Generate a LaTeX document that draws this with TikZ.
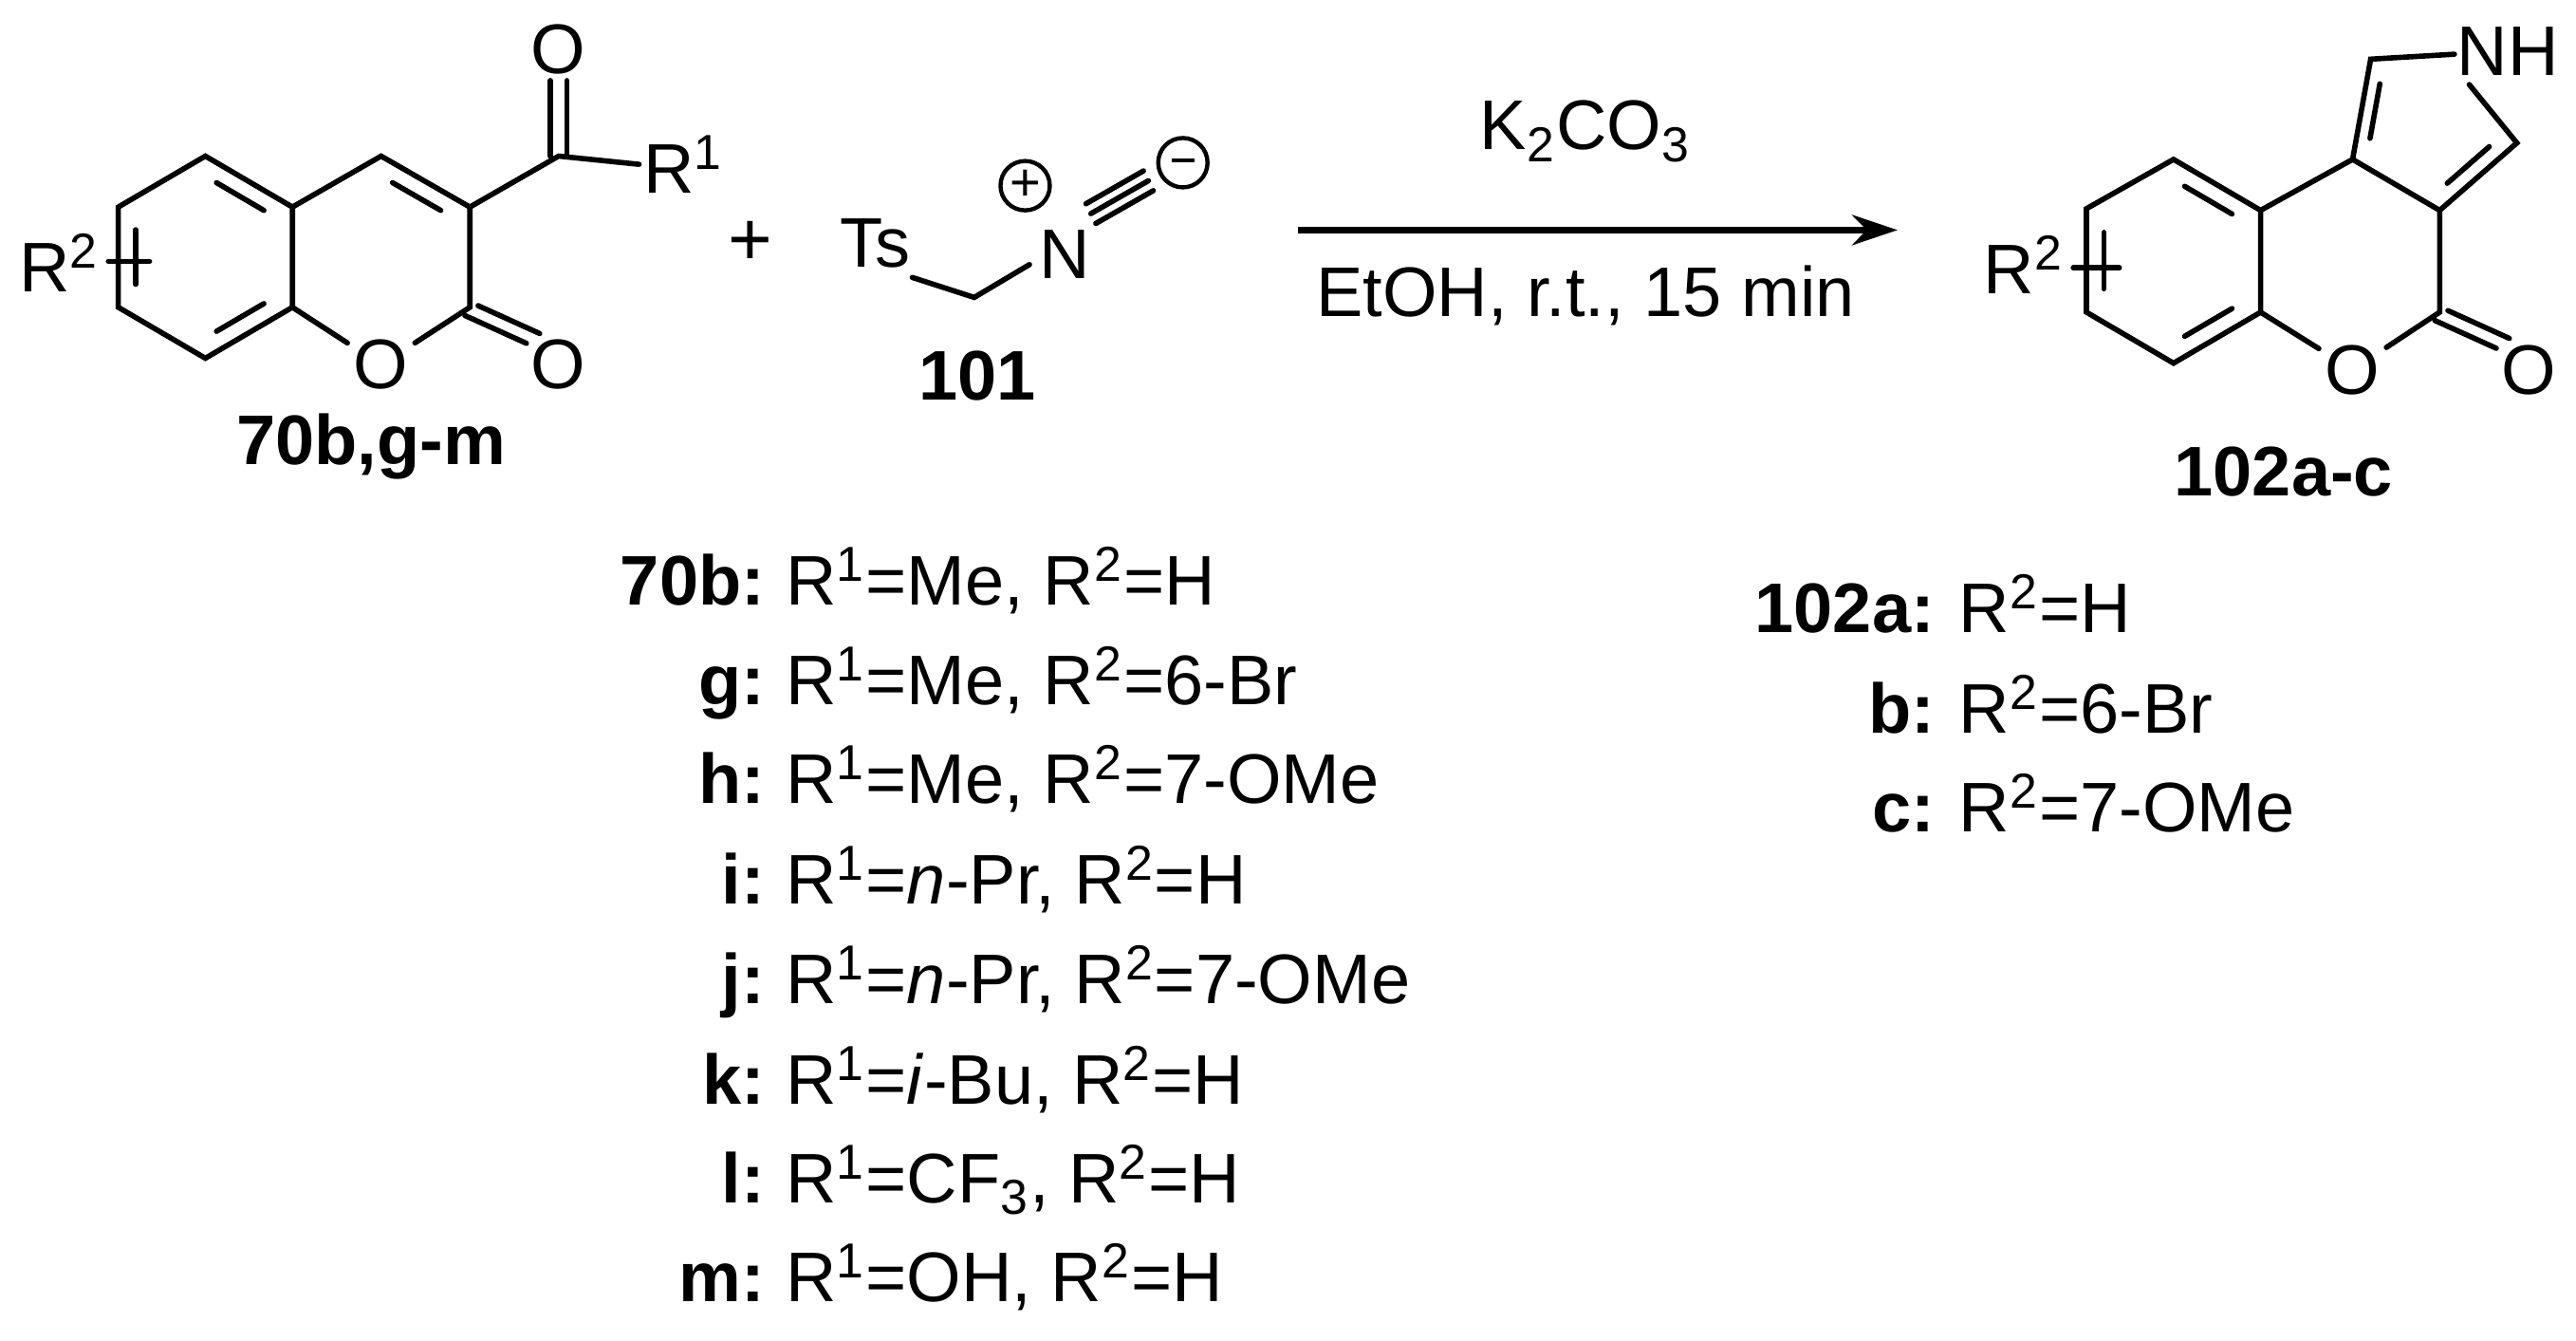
\documentclass[tikz,border=0pt]{standalone}
\usepackage{fontspec}
\setmainfont{Liberation Sans}
\usetikzlibrary{calc,arrows.meta}
\begin{document}
\begin{tikzpicture}[x=0.4329pt,y=-0.4329pt,
  bond/.style={line width=1.4pt,line cap=round},
  atom/.style={inner sep=1.5pt,font=\fontsize{18.5}{22}\selectfont},
  txt/.style={inner sep=0pt,font=\fontsize{18.5}{22}\selectfont},
  lbl/.style={inner sep=0pt,font=\fontsize{18.5}{22}\selectfont\bfseries},
  chg/.style={circle,draw,line width=1.1pt,minimum size=13pt,inner sep=0pt}]
\useasboundingbox (0,0) rectangle (1568,816);
\newcommand{\inbond}[3]{\draw[bond] ($($(#1)!0.16!(#2)$)!0.2!(#3)$) -- ($($(#1)!0.84!(#2)$)!0.2!(#3)$);}
% ---------- left molecule 70 ----------
\coordinate (a1) at (125,95); \coordinate (a2) at (72,126); \coordinate (a3) at (72,187);
\coordinate (a4) at (125,218); \coordinate (a8a) at (178,187); \coordinate (a4a) at (178,126);
\coordinate (ac4) at (232,95); \coordinate (ac3) at (286,126); \coordinate (ac2) at (286,187);
\coordinate (acyl) at (340,95);
\coordinate (bc) at (125,156); \coordinate (pc) at (232,156);
\node[atom] (ao1) at (232,222) {O};
\node[atom] (aox) at (340,222) {O};
\node[atom] (aot) at (340,30) {O};
\node[atom,anchor=west,inner sep=1pt] (ar1) at (389,100) {R\textsuperscript{1}};
\node[atom,anchor=east,inner sep=1pt] (ar2) at (63,160) {R\textsuperscript{2}};
\draw[bond] (a1)--(a2)--(a3)--(a4)--(a8a)--(a4a)--cycle;
\inbond{a1}{a4a}{bc}\inbond{a2}{a3}{bc}\inbond{a8a}{a4}{bc}
\draw[bond] (a4a)--(ac4)--(ac3)--(ac2)--(ao1)--(a8a);
\inbond{ac4}{ac3}{pc}
\draw[bond] (ac3)--(acyl)--(ar1.west);
\draw[bond] ($(acyl)+(-5,0)$)--($(aot.south)+(-5,0)$);
\draw[bond] ($(acyl)+(5,0)$)--($(aot.south)+(5,0)$);
\draw[bond] ($(ac2)+(-3,5)$)--($(aox.north west)+(1,6)$);
\draw[bond] ($(ac2)+(5,-1)$)--($(aox.north west)+(9,0)$);
\coordinate (ar2s) at (66,159); \coordinate (ar2e) at (91,159);
\draw[bond] (ar2s)--(ar2e);
\node[lbl] (l70) at (226,272) {70b,g-m};
% plus
\node[txt,font=\fontsize{20}{22}\selectfont] (plus) at (457,148) {+};
% ---------- 101 ----------
\node[atom] (ts) at (533,148) {Ts};
\coordinate (ch2) at (593,181);
\node[atom] (nn) at (648,155) {N};
\node[chg] (pch) at (624,113) {\fontsize{14}{14}\selectfont +};
\coordinate (tb1) at (664,130); \coordinate (tb2) at (699,110);
\draw[bond] ($(ts.south east)+(-3,2)$)--(ch2)--($(nn.west)+(-2,6)$);
\foreach \o in {-1,0,1}{\draw[bond] ($(tb1)+(\o*3,\o*6)$)--($(tb2)+(\o*3,\o*6)$);}
\node[chg] (mch) at (720,99) {\rule[0.25ex]{6pt}{1.1pt}};
\node[lbl] (l101) at (595,229) {101};
% ---------- arrow ----------
\coordinate (arS) at (790,140); \coordinate (arE) at (1155,140);
\draw[line width=1.6pt,-{Stealth[length=12pt,width=8pt]}] (arS)--(arE);
\node[txt] (k2) at (965,80) {K\textsubscript{2}CO\textsubscript{3}};
\node[txt] (cond) at (965,180) {EtOH, r.t., 15 min};
% ---------- right molecule 102 ----------
\coordinate (b1) at (1323,97); \coordinate (b2) at (1270,127); \coordinate (b3) at (1270,190);
\coordinate (b4) at (1323,221); \coordinate (b5) at (1376,190); \coordinate (b6) at (1376,128);
\coordinate (c9b) at (1432,97); \coordinate (c3a) at (1485,128); \coordinate (c4) at (1485,190);
\coordinate (c1) at (1443,36); \coordinate (c3) at (1532,87);
\coordinate (bbc) at (1323,159); \coordinate (rc) at (1478,72);
\node[atom] (bo5) at (1432,225) {O};
\node[atom] (box) at (1539,225) {O};
\node[atom,anchor=west,inner sep=1pt] (nh) at (1493,31) {NH};
\node[atom,anchor=east,inner sep=1pt] (br2) at (1259,161) {R\textsuperscript{2}};
\draw[bond] (b1)--(b2)--(b3)--(b4)--(b5)--(b6)--cycle;
\inbond{b1}{b6}{bbc}\inbond{b2}{b3}{bbc}\inbond{b5}{b4}{bbc}
\draw[bond] (b6)--(c9b)--(c3a)--(c4)--(bo5)--(b5);
\draw[bond] (c9b)--(c1)--($(nh.west)+(1,2)$);
\draw[bond] ($(nh.south west)+(10,3)$)--(c3)--(c3a);
\inbond{c9b}{c1}{rc}\inbond{c3}{c3a}{rc}
\draw[bond] ($(c4)+(-3,5)$)--($(box.north west)+(1,6)$);
\draw[bond] ($(c4)+(5,-1)$)--($(box.north west)+(9,0)$);
\coordinate (br2s) at (1262,163); \coordinate (br2e) at (1290,163);
\draw[bond] (br2s)--(br2e);
\node[lbl] (l102) at (1390,287) {102a-c};
% ---------- table ----------
\foreach \n/\l/\t/\y in {
 t1/70b:/{R\textsuperscript{1}=Me, R\textsuperscript{2}=H}/368,
 t2/g:/{R\textsuperscript{1}=Me, R\textsuperscript{2}=6-Br}/429,
 t3/h:/{R\textsuperscript{1}=Me, R\textsuperscript{2}=7-OMe}/489,
 t4/i:/{R\textsuperscript{1}=\textit{n}-Pr, R\textsuperscript{2}=H}/550,
 t5/j:/{R\textsuperscript{1}=\textit{n}-Pr, R\textsuperscript{2}=7-OMe}/611,
 t6/k:/{R\textsuperscript{1}=\textit{i}-Bu, R\textsuperscript{2}=H}/672,
 t7/l:/{R\textsuperscript{1}=CF\textsubscript{3}, R\textsuperscript{2}=H}/732,
 t8/m:/{R\textsuperscript{1}=OH, R\textsuperscript{2}=H}/792}{
 \node[lbl,anchor=base east] (\n l) at (466,\y) {\l};
 \node[txt,anchor=base west] (\n t) at (478,\y) {\t};}
\foreach \n/\l/\t/\y in {
 u1/102a:/{R\textsuperscript{2}=H}/385,
 u2/b:/{R\textsuperscript{2}=6-Br}/446,
 u3/c:/{R\textsuperscript{2}=7-OMe}/506}{
 \node[lbl,anchor=base east] (\n l) at (1178,\y) {\l};
 \node[txt,anchor=base west] (\n t) at (1192,\y) {\t};}
\end{tikzpicture}
\end{document}
